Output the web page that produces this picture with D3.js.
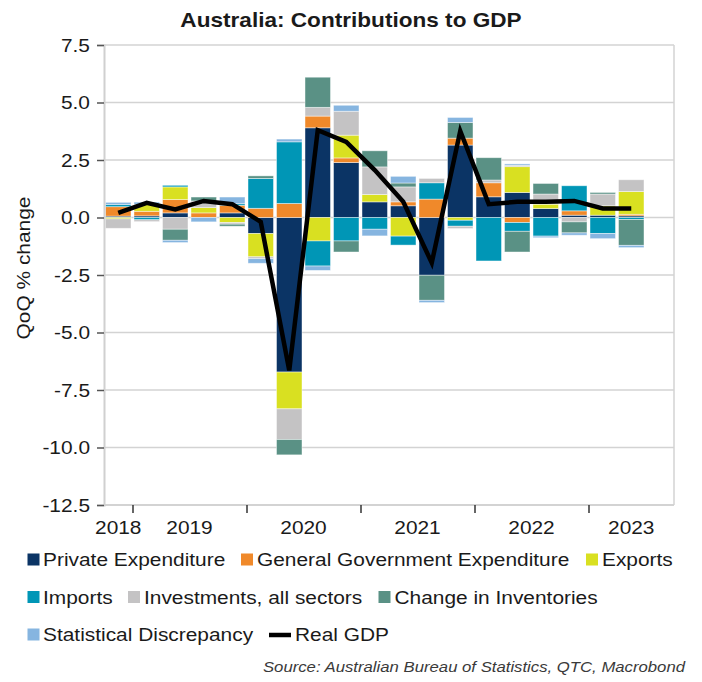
<!DOCTYPE html>
<html>
<head>
<meta charset="utf-8">
<script src="https://cdn.jsdelivr.net/npm/d3@7"></script>
<style>
  html, body { margin: 0; padding: 0; background: #fff; }
  svg { display: block; }
  text { font-family: "Liberation Sans", Arial, sans-serif; fill: #1a1a1a; }
</style>
</head>
<body>
<div id="chart"></div>
<script>
// ---------------- DATA ----------------
const quarters = ["2018Q4","2019Q1","2019Q2","2019Q3","2019Q4","2020Q1","2020Q2","2020Q3","2020Q4",
                  "2021Q1","2021Q2","2021Q3","2021Q4","2022Q1","2022Q2","2022Q3","2022Q4","2023Q1","2023Q2"];

const privateExpenditure = [0.06, 0.07, 0.2, 0, 0.2, -0.7, -6.72, 3.9, 2.39, 0.68, 0.51, -2.51, 3.15, 0.9, 1.09, 0.39, 0.1, 0.1, 0.07];
const govExpenditure     = [0.41, 0.2, 0.58, 0.2, 0.33, 0.4, 0.61, 0.51, 0.2, 0, 0.17, 0.8, 0.3, 0.61, -0.22, 0, 0.19, 0, 0.07];
const exportsC           = [-0.06, 0.3, 0.55, 0.23, -0.22, -1.01, -1.6, -1.02, 0.99, 0.32, -0.81, 0, -0.12, 0, 1.12, 0.19, 0, 0.41, 0.99];
const importsC           = [0.09, -0.1, 0.07, 0, 0.07, 1.3, 2.68, -1.09, -1.02, -0.51, -0.39, 0.71, -0.26, -1.89, -0.38, -0.81, 1.09, -0.7, -0.09];
const investments        = [-0.41, -0.08, -0.51, 0.29, -0.07, -0.08, -1.33, 0.38, 1.04, 1.2, 0.65, 0.19, -0.1, 0.12, 0.06, 0.44, -0.19, 0.51, 0.51];
const inventories        = [0, 0, -0.48, 0.17, -0.09, 0.11, -0.67, 1.31, -0.48, 0.7, 0.17, -1.09, 0.68, 0.97, -0.9, 0.46, -0.48, 0.07, -1.12];
const statDiscrepancy    = [0.1, 0.1, -0.1, -0.19, 0.29, -0.2, 0.12, -0.19, 0.26, -0.29, 0.29, -0.1, 0.22, 0, 0.06, -0.07, -0.1, -0.22, -0.1];
const realGDP            = [0.2, 0.64, 0.35, 0.72, 0.58, -0.19, -6.65, 3.8, 3.29, 2.06, 0.68, -1.97, 3.76, 0.58, 0.68, 0.68, 0.72, 0.39, 0.39];

const seriesNames  = ["Private Expenditure","General Government Expenditure","Exports","Imports",
                      "Investments, all sectors","Change in Inventories","Statistical Discrepancy"];
const seriesValues = [privateExpenditure, govExpenditure, exportsC, importsC, investments, inventories, statDiscrepancy];
const seriesColors = ["#0b3465","#f0892a","#d9e021","#0096b6","#c4c3c4","#5a9185","#86b5e0"];

const yTickValues = [7.5, 5, 2.5, 0, -2.5, -5, -7.5, -10, -12.5];
const yTickLabels = ["7.5","5.0","2.5","0.0","-2.5","-5.0","-7.5","-10.0","-12.5"];
const yearLabels  = ["2018","2019","2020","2021","2022","2023"];
const firstYear = 2018, firstQuarterIndexOfYear = -3; // 2018Q1 sits 3 quarters before 2018Q4

// ---------------- LAYOUT ----------------
const W = 702, H = 682;
const SX = 1.13; // horizontal glyph stretch of the reference font
const pLeft = 104, pRight = 674, pTop = 45, pBottom = 505;

const svg = d3.select("#chart").append("svg").attr("width", W).attr("height", H);
svg.append("rect").attr("width", W).attr("height", H).attr("fill", "#fff");

function txt(g, x, y, s, o = {}) {
  const t = g.append("text")
    .attr("transform", `translate(${x},${y})${o.rotate ? ` rotate(${o.rotate})` : ""} scale(${SX},1)`)
    .attr("text-anchor", o.anchor || "start")
    .style("font-size", (o.size || 18.5) + "px")
    .text(s);
  if (o.weight) t.style("font-weight", o.weight);
  if (o.style) t.style("font-style", o.style);
  if (o.fill) t.style("fill", o.fill);
  return t;
}

const x = d3.scaleLinear().domain([0, 20]).range([pLeft, pRight]);
const y = d3.scaleLinear().domain([-12.5, 7.5]).range([pBottom, pTop]);

// gridlines
svg.append("g").selectAll("line").data(yTickValues).join("line")
  .attr("x1", pLeft).attr("x2", pRight)
  .attr("y1", d => y(d)).attr("y2", d => y(d))
  .attr("stroke", "#d3d3d3").attr("stroke-width", 1.5);

// frame right / bottom
svg.append("line").attr("x1", pRight).attr("x2", pRight).attr("y1", pTop).attr("y2", pBottom)
  .attr("stroke", "#d3d3d3").attr("stroke-width", 1.5);
svg.append("line").attr("x1", pLeft).attr("x2", pRight).attr("y1", pBottom).attr("y2", pBottom)
  .attr("stroke", "#cfcfcf").attr("stroke-width", 1.5);

// stacked bars
const table = quarters.map((q, i) => {
  const o = { q, i };
  seriesNames.forEach((n, k) => o[n] = seriesValues[k][i]);
  return o;
});
const stack = d3.stack().keys(seriesNames).offset(d3.stackOffsetDiverging);
const stacked = stack(table);
const bw = 25.5;

svg.append("g").selectAll("g").data(stacked).join("g")
  .attr("fill", (d, k) => seriesColors[k])
  .selectAll("rect").data(d => d).join("rect")
  .attr("x", d => x(d.data.i + 0.5) - bw / 2)
  .attr("width", bw)
  .attr("y", d => y(Math.max(d[0], d[1])))
  .attr("height", d => Math.abs(y(d[0]) - y(d[1])))
  .attr("stroke", "rgba(255,255,255,0.55)").attr("stroke-width", 0.8);

// left axis line + ticks
const yAxis = d3.axisLeft(y).tickValues(yTickValues).tickSize(7).tickFormat("");
const gy = svg.append("g").attr("transform", `translate(${pLeft},0)`).call(yAxis);
gy.select(".domain").attr("stroke", "#d0d0d0").attr("stroke-width", 2);
gy.selectAll(".tick line").attr("stroke", "#555").attr("stroke-width", 1.5);
yTickValues.forEach((v, k) => txt(svg, 90, y(v) + 6.6, yTickLabels[k], { anchor: "end" }));

// bottom axis ticks at year starts
const yearStarts = yearLabels.slice(1).map(yr => (+yr - firstYear) * 4 + firstQuarterIndexOfYear);
const xAxis = d3.axisBottom(x).tickValues(yearStarts).tickSize(8).tickFormat("");
const gx = svg.append("g").attr("transform", `translate(0,${pBottom})`).call(xAxis);
gx.select(".domain").remove();
gx.selectAll(".tick line").attr("stroke", "#333").attr("stroke-width", 1.5);
yearLabels.forEach(yr => {
  const s = Math.max(0, (+yr - firstYear) * 4 + firstQuarterIndexOfYear);
  const e = Math.min(20, (+yr - firstYear) * 4 + firstQuarterIndexOfYear + 4);
  txt(svg, x((s + e) / 2), 534, yr, { anchor: "middle" });
});

// Real GDP line
const line = d3.line().x((d, i) => x(i + 0.5)).y(d => y(d));
svg.append("path").datum(realGDP).attr("d", line)
  .attr("fill", "none").attr("stroke", "#000").attr("stroke-width", 4.5)
  .attr("stroke-linejoin", "miter");

// title, y label, source
txt(svg, 351, 27, "Australia: Contributions to GDP", { anchor: "middle", size: 20, weight: "bold" });
txt(svg, 30, 268, "QoQ % change", { anchor: "middle", rotate: -90 });
txt(svg, 685, 672, "Source: Australian Bureau of Statistics, QTC, Macrobond",
    { anchor: "end", size: 14.8, style: "italic", fill: "#3a3a3a" });

// legend
const legendItems = [
  { k: 0, sx: 27.5, tx: 43, row: 0 },
  { k: 1, sx: 241, tx: 257, row: 0 },
  { k: 2, sx: 586, tx: 602, row: 0 },
  { k: 3, sx: 27.5, tx: 43, row: 1 },
  { k: 4, sx: 128, tx: 144, row: 1 },
  { k: 5, sx: 378.5, tx: 394.5, row: 1 },
  { k: 6, sx: 27.5, tx: 43, row: 2 }
];
const rowBase = [566, 603.5, 641];
const lg = svg.append("g");
legendItems.forEach(it => {
  lg.append("rect").attr("x", it.sx).attr("y", rowBase[it.row] - 12.5)
    .attr("width", 12).attr("height", 12).attr("fill", seriesColors[it.k]);
  txt(lg, it.tx, rowBase[it.row], seriesNames[it.k]);
});
lg.append("line").attr("x1", 269).attr("x2", 291).attr("y1", 635).attr("y2", 635)
  .attr("stroke", "#000").attr("stroke-width", 4.5);
txt(lg, 295, 641, "Real GDP");
</script>
</body>
</html>
